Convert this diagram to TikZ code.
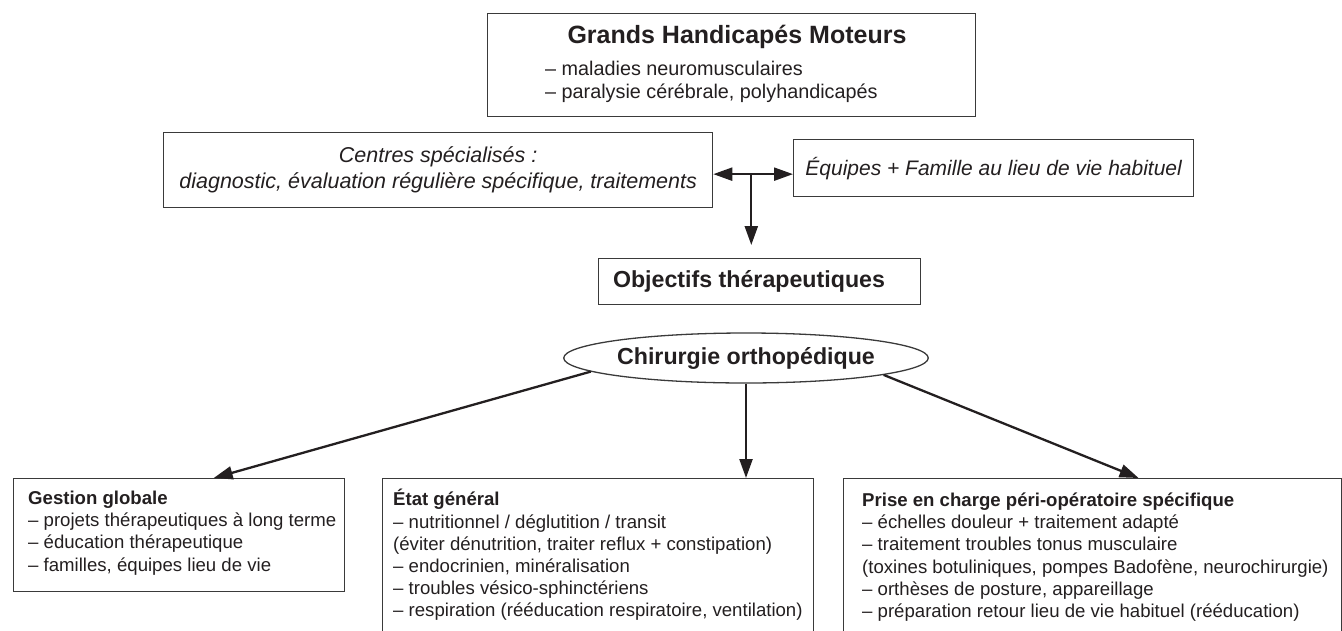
\documentclass[tikz,border=0pt]{standalone}
\usepackage{fontspec}
\setmainfont{Liberation Sans}
\usetikzlibrary{arrows.meta,shapes.geometric,calc}
\definecolor{ink}{HTML}{231F20}
\definecolor{edge}{HTML}{3A3A3A}
\begin{document}
\begin{tikzpicture}[x=1pt,y=-1pt,
  frame/.style={draw=edge, line width=1.3pt, inner sep=0pt, anchor=north west},
  txt/.style={inner sep=0pt, text=ink, align=left},
  body/.style={font=\fontsize{18.6}{22.2}\selectfont},
  arr/.style={line width=2.3pt, draw=ink, -{Triangle[length=19pt,width=13pt]}},
]
\useasboundingbox (0,0) rectangle (1342,630);
\clip (0,0) rectangle (1342,630);

% frames
\node[frame, minimum width=488pt, minimum height=103pt] (top) at (487,13) {};
\node[frame, minimum width=549pt, minimum height=75pt] (cs) at (163,132) {};
\node[frame, minimum width=400pt, minimum height=57pt] (eq) at (793,139) {};
\node[frame, minimum width=322pt, minimum height=46pt] (obj) at (598,258) {};
\node[draw=edge, line width=1.3pt, ellipse, inner sep=0pt, minimum width=334pt, minimum height=50pt,
      text=ink, font=\bfseries\fontsize{23.2}{27}\selectfont] (ell) at (746,358) {\raisebox{2pt}{Chirurgie orthopédique}};
\node[frame, minimum width=331pt, minimum height=113pt] (gl) at (13,478) {};
\node[frame, minimum width=431pt, minimum height=200pt] (mid) at (382,478) {};
\node[frame, minimum width=498pt, minimum height=200pt] (pc) at (843,478) {};

% texts
\node[txt, font=\bfseries\fontsize{25}{30}\selectfont] (toptitle) at (737,37) {Grands Handicapés Moteurs};
\node[txt, anchor=west, font=\fontsize{19.8}{23.5}\selectfont] (toplines) at (545,82)
  {-- maladies neuromusculaires\\-- paralysie cérébrale, polyhandicapés};
\node[txt, align=center, font=\itshape\fontsize{21.5}{26}\selectfont] (cstext) at (cs.center)
  {Centres spécialisés :\\diagnostic, évaluation régulière spécifique, traitements};
\node[txt, font=\itshape\fontsize{21}{25}\selectfont] (eqtext) at (eq.center)
  {Équipes + Famille au lieu de vie habituel};
\node[txt, font=\bfseries\fontsize{23.2}{27}\selectfont] (objtext) at (749,281) {Objectifs thérapeutiques};

\node[txt, body, anchor=west] (gltext) at (28,533)
  {\textbf{Gestion globale}\\
   -- projets thérapeutiques à long terme\\
   -- éducation thérapeutique\\
   -- familles, équipes lieu de vie};
\node[txt, body, anchor=west] (midtext) at (393,555)
  {\textbf{État général}\\
   -- nutritionnel / déglutition / transit\\
   (éviter dénutrition, traiter reflux + constipation)\\
   -- endocrinien, minéralisation\\
   -- troubles vésico-sphinctériens\\
   -- respiration (rééducation respiratoire, ventilation)};
\node[txt, body, anchor=west] (pctext) at (862,557)
  {\textbf{Prise en charge péri-opératoire spécifique}\\
   -- échelles douleur + traitement adapté\\
   -- traitement troubles tonus musculaire\\
   (toxines botuliniques, pompes Badofène, neurochirurgie)\\
   -- orthèses de posture, appareillage\\
   -- préparation retour lieu de vie habituel (rééducation)};

% connectors
\draw[line width=2.3pt, draw=ink, {Triangle[length=19pt,width=13pt]}-{Triangle[length=19pt,width=13pt]}]
  ($(cs.east)+(0,4)$) -- ($(cs.east -| eq.west)+(0,4)$);
\coordinate (j) at ($(cs.east)+(38,4)$);
\draw[arr] (j) -- ($(j |- obj.north)+(0,-13)$);
\draw[arr] (ell.185.6) -- ($(gl.north west)!0.604!(gl.north east)$);
\draw[arr] (ell.south) -- (ell.south |- mid.north);
\draw[arr] (ell.-7) -- ($(pc.north west)!0.592!(pc.north east)$);
\end{tikzpicture}
\end{document}
